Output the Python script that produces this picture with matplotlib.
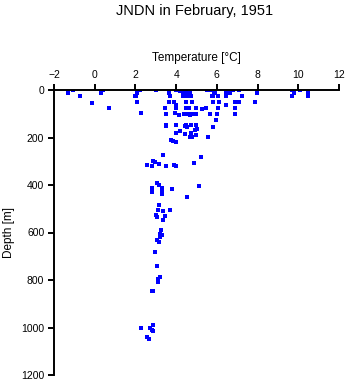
import matplotlib
matplotlib.use("Agg")
import matplotlib.pyplot as plt

plt.rcParams['font.family'] = ['Liberation Sans', 'DejaVu Sans']

# Estaciones JNDN, febrero 1951: temperatura (°C) y profundidad (m)
temperatura = [
    -1.32, -1.08, -0.71, -0.12, 0.40, 0.33, 0.71,
    2.22, 2.08, 2.05, 1.98, 2.08, 2.28,
    3.00, 3.65, 3.72,
    4.01, 4.14, 4.21, 4.29, 4.34, 4.40, 4.47, 4.53, 4.60, 4.67, 4.73, 4.34, 4.47,
    5.50, 5.65, 5.89, 5.81, 6.07, 5.78, 5.86,
    6.43, 6.45, 6.63, 6.79, 7.08, 7.23, 7.95,
    9.70, 10.06, 9.80, 9.70, 10.50, 10.50,
    3.65, 3.88, 4.00, 4.47, 4.80, 5.81, 6.09, 6.43, 6.90, 7.10, 7.87,
    3.43, 3.98, 4.47, 4.63, 4.96, 5.29, 5.49, 6.05, 6.87,
    3.52, 3.93, 4.13, 4.37, 4.57, 4.66, 4.76, 4.96, 5.65, 6.00, 6.87,
    5.97,
    3.50, 3.52, 3.98, 4.45, 4.53, 4.50, 4.72, 4.96, 5.04, 4.91, 5.81,
    4.18, 3.98, 4.42, 4.72, 4.96, 4.80, 4.67, 5.56,
    3.74, 3.85, 4.00,
    3.36, 5.22,
    2.88, 2.98, 3.15, 2.59, 2.82, 3.50, 3.90, 4.00, 4.88,
    3.07, 3.16, 3.30, 2.82, 2.82, 3.30, 3.30, 3.82, 5.12, 4.53,
    3.16, 3.10, 3.33, 3.69, 3.00, 3.07, 3.47, 3.36,
    3.26, 3.20, 3.30, 3.20, 3.05, 3.16, 2.97,
    3.08, 3.20, 3.10, 3.12, 2.79, 2.87,
    2.87, 2.28, 2.70, 2.80, 2.87, 2.57, 2.65,
]
profundidad = [
    12, 0, 27, 56, 0, 13, 77,
    0, 13, 27, 27, 52, 98,
    0, 13, 27,
    0, 0, 6, 0, 13, 6, 17, 27, 17, 13, 27, 27, 0,
    0, 0, 13, 27, 27, 25, 14,
    13, 27, 14, 0, 0, 27, 13,
    0, 0, 13, 27, 13, 27,
    52, 52, 62, 52, 52, 52, 52, 62, 52, 52, 52,
    77, 77, 77, 77, 77, 80, 77, 77, 76,
    100, 96, 107, 102, 102, 107, 102, 102, 99, 99, 101,
    128,
    146, 150, 146, 150, 156, 147, 146, 146, 163, 168, 155,
    174, 181, 187, 181, 190, 199, 196, 196,
    212, 216, 220,
    274, 283,
    299, 305, 313, 317, 320, 320, 316, 318, 309,
    393, 400, 411, 411, 431, 431, 438, 418, 406, 452,
    484, 505, 511, 505, 525, 535, 532, 547,
    589, 607, 612, 621, 632, 642, 682,
    741, 787, 797, 807, 847, 847,
    989, 1001, 1003, 1010, 1016, 1040, 1048,
]

ticks_x = [-2, 0, 2, 4, 6, 8, 10, 12]
ticks_y = [0, 200, 400, 600, 800, 1000, 1200]

fig = plt.figure(figsize=(3.48, 3.84), dpi=100)
ax = fig.add_axes([54 / 348, 1 - 375 / 384, 285 / 348, 285 / 384])

ax.scatter(temperatura, profundidad, s=5, marker='s', color='#0000ff',
           linewidths=0)

ax.set_xlim(-2, 12)
ax.set_ylim(1200, 0)
ax.set_xticks(ticks_x)
ax.set_yticks(ticks_y)

# eje x arriba, solo spines superior e izquierdo
ax.xaxis.tick_top()
ax.xaxis.set_label_position('top')
for lado in ['right', 'bottom']:
    ax.spines[lado].set_visible(False)
for lado in ['top', 'left']:
    ax.spines[lado].set_linewidth(1.4)
ax.tick_params(axis='both', length=4, width=1.4, labelsize=7.5, pad=3)

ax.set_xlabel("Temperature [°C]", fontsize=8.5, labelpad=7)
ax.set_ylabel("Depth [m]", fontsize=8.5, labelpad=4)
fig.text(0.56, 0.972, "JNDN in February, 1951", ha='center', va='center',
         fontsize=10.5)

fig.savefig("out.png", dpi=100)
